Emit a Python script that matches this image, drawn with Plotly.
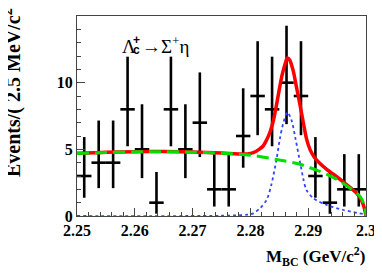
import plotly.graph_objects as go

# ---- data ----
bin_centers = [2.25125, 2.25375, 2.25625, 2.25875, 2.26125, 2.26375, 2.26625, 2.26875,
               2.27125, 2.27375, 2.27625, 2.27875, 2.28125, 2.28375, 2.28625, 2.28875,
               2.29125, 2.29375, 2.29625, 2.29875]
counts = [3, 4, 4, 8, 5, 1, 8, 5, 7, 2, 2, 6, 9, 8, 10, 9, 3, 1, 2, 2]
err_hi = [2.92, 3.16, 3.16, 3.95, 3.38, 2.30, 3.95, 3.38, 3.77, 2.64,
          2.64, 3.58, 4.11, 3.95, 4.27, 4.11, 2.92, 2.30, 2.64, 2.64]
err_lo = [1.63, 1.91, 1.91, 2.77, 2.16, 0.83, 2.77, 2.16, 2.58, 1.29,
          1.29, 2.38, 2.94, 2.77, 3.11, 2.94, 1.63, 0.83, 1.29, 1.29]
half_bin = 0.00125

total_x = [2.25, 2.255, 2.26, 2.265, 2.27, 2.275, 2.2795, 2.2805, 2.2815, 2.2822, 2.2828,
           2.2834, 2.284, 2.2845, 2.285, 2.2855, 2.286, 2.2864, 2.2868, 2.2874, 2.288,
           2.2886, 2.2892, 2.2897, 2.2903, 2.291, 2.292, 2.2932, 2.2943, 2.2961, 2.2975,
           2.2984, 2.2992, 2.2997, 2.3]
total_y = [4.70, 4.78, 4.82, 4.83, 4.80, 4.72, 4.66, 4.75, 5.0, 5.25, 5.7,
           6.3, 7.2, 8.3, 9.5, 10.6, 11.4, 11.85, 11.7, 10.9, 9.6,
           8.3, 6.9, 5.8, 5.0, 4.45, 3.95, 3.5, 3.15, 2.55, 2.05,
           1.7, 1.2, 0.6, 0.0]

bkg_x = [2.25, 2.255, 2.26, 2.265, 2.27, 2.275, 2.28, 2.285, 2.2886, 2.2897, 2.292,
         2.2943, 2.2972, 2.299, 2.2998, 2.3]
bkg_y = [4.68, 4.76, 4.81, 4.82, 4.79, 4.71, 4.56, 4.2, 3.88, 3.72, 3.35,
         2.9, 2.1, 1.45, 0.7, 0.0]

sig_x = [2.25, 2.275, 2.2795, 2.2805, 2.2817, 2.2828, 2.2836, 2.2845, 2.2851, 2.2857,
         2.2864, 2.2871, 2.2878, 2.2886, 2.2892, 2.2897, 2.2909, 2.2932, 2.2961, 2.2995, 2.3]
sig_y = [0.0, 0.02, 0.1, 0.2, 0.6, 1.2, 2.3, 4.2, 5.8, 7.0,
         7.77, 7.2, 5.8, 4.0, 2.7, 1.95, 1.33, 0.83, 0.45, 0.15, 0.1]

x_ticks = [2.25, 2.26, 2.27, 2.28, 2.29, 2.3]
x_ticktext = ["2.25", "2.26", "2.27", "2.28", "2.29", "2.3"]
y_ticks = [0, 5, 10]

SERIF = "Liberation Serif, Times New Roman, serif"
SANS = "Liberation Sans, Arial, sans-serif"

# page layout (the page body adds an 8 px offset)
PL, PT, PW, PH = 77, 16, 289, 200   # plot area on the page
OFF = 8


def px(xp):
    return (xp - PL) / PW


def py(yp):
    return (PT + PH - yp) / PH


fig = go.Figure()

fig.add_trace(go.Scatter(
    x=bin_centers, y=counts, mode="markers",
    marker=dict(size=1, color="black"),
    error_y=dict(type="data", symmetric=False, array=err_hi, arrayminus=err_lo,
                 color="black", thickness=2.6, width=0),
    error_x=dict(type="constant", value=half_bin, color="black", thickness=2.6, width=0),
    showlegend=False, hoverinfo="skip"))

fig.add_trace(go.Scatter(x=sig_x, y=sig_y, mode="lines",
                         line=dict(color="#3344ff", width=1.8, dash="dot", shape="spline", smoothing=0.8),
                         showlegend=False))
fig.add_trace(go.Scatter(x=total_x, y=total_y, mode="lines",
                         line=dict(color="#ff0000", width=3.5, shape="spline", smoothing=0.8),
                         showlegend=False))
fig.add_trace(go.Scatter(x=bkg_x, y=bkg_y, mode="lines",
                         line=dict(color="#00e000", width=3, dash="12px,6px", shape="spline", smoothing=0.8),
                         showlegend=False))

axis_common = dict(showgrid=False, zeroline=False, showline=True, mirror=True,
                   linecolor="#444444", linewidth=1, ticks="inside", tickcolor="#444444",
                   tickwidth=1, ticklen=8, automargin=False, ticklabeloverflow="allow",
                   tickfont=dict(family=SERIF, size=16, color="black", weight="bold"))

fig.update_xaxes(range=[2.25, 2.3], tickvals=x_ticks, ticktext=x_ticktext,
                 minor=dict(dtick=0.002, ticks="inside", ticklen=4, tickcolor="#444444"),
                 **axis_common)
fig.update_yaxes(range=[0, 15], tickvals=y_ticks, ticklabelstandoff=0,
                 minor=dict(dtick=1, ticks="inside", ticklen=4, tickcolor="#444444"),
                 **axis_common)

fig.add_annotation(xref="paper", yref="paper", x=px(12), y=py(90),
                   xanchor="center", yanchor="middle",
                   text="Events/( 2.5 MeV/c<sup>2</sup>)", textangle=-90, showarrow=False,
                   font=dict(family=SERIF, size=20, color="black", weight="bold"))
fig.add_annotation(xref="paper", yref="paper", x=px(367), y=py(256),
                   xanchor="right", yanchor="middle",
                   text="M<sub>BC</sub> (GeV/c<sup>2</sup>)", showarrow=False,
                   font=dict(family=SERIF, size=17, color="black", weight="bold"))

# decay label
fig.add_annotation(xref="paper", yref="paper", x=px(129), y=py(46),
                   xanchor="center", yanchor="middle",
                   text="Λ", showarrow=False,
                   font=dict(family=SERIF, size=19, color="black"))
fig.add_annotation(xref="paper", yref="paper", x=px(136), y=py(40),
                   xanchor="center", yanchor="middle",
                   text="+", showarrow=False,
                   font=dict(family=SANS, size=12, color="black", weight="bold"))
fig.add_annotation(xref="paper", yref="paper", x=px(136.5), y=py(50),
                   xanchor="center", yanchor="middle",
                   text="c", showarrow=False,
                   font=dict(family=SANS, size=12, color="black", weight="bold"))
fig.add_annotation(xref="paper", yref="paper", x=px(139.5), y=py(45),
                   xanchor="left", yanchor="middle",
                   text="→Σ<sup>+</sup>η", showarrow=False,
                   font=dict(family=SERIF, size=19, color="black"))

W, H = 382 - OFF, 277 - OFF
ml, mt = PL - OFF, PT - OFF
fig.update_layout(width=W, height=H,
                  margin=dict(l=ml, t=mt, r=W - ml - PW, b=H - mt - PH, pad=0),
                  paper_bgcolor="white", plot_bgcolor="white", showlegend=False)

fig.write_html("out.html")
